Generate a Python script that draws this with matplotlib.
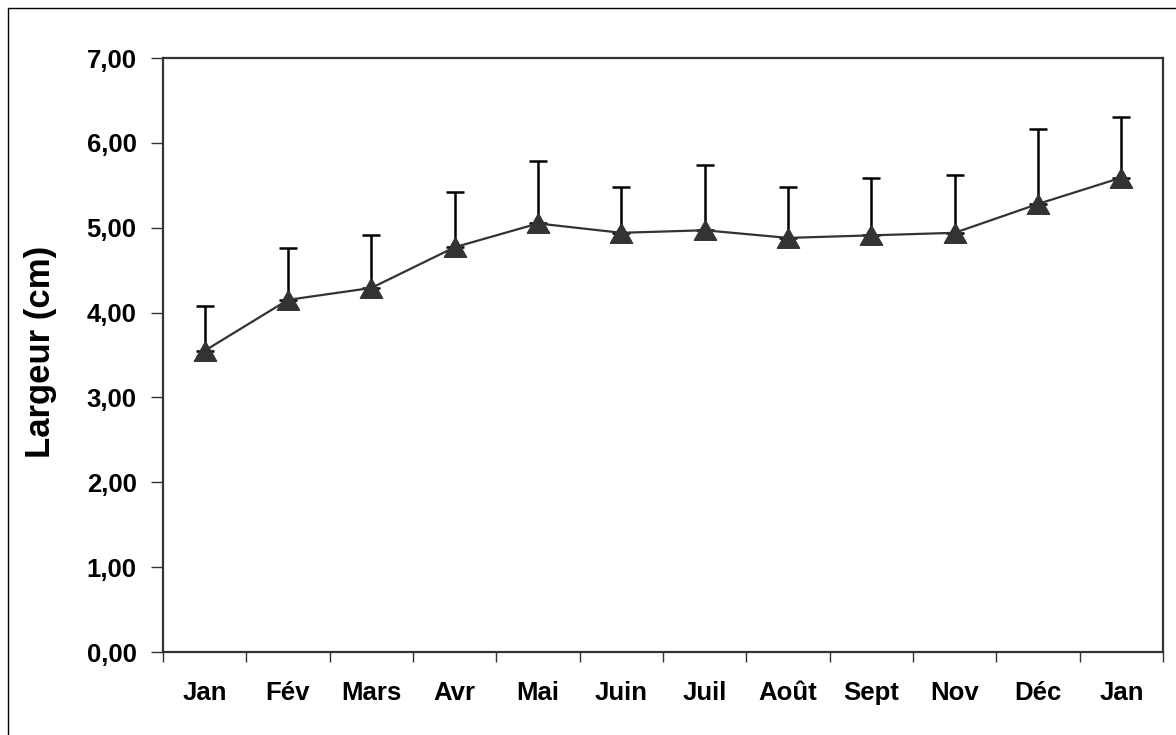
import numpy as np
import matplotlib.pyplot as plt
from matplotlib.lines import Line2D
from matplotlib.ticker import FixedLocator, FuncFormatter

plt.rcParams['font.family'] = ['Liberation Sans', 'DejaVu Sans']
plt.rcParams['font.weight'] = 'bold'

mois = ['Jan', 'Fév', 'Mars', 'Avr', 'Mai', 'Juin', 'Juil', 'Août', 'Sept', 'Nov', 'Déc', 'Jan']
largeur = [3.55, 4.15, 4.29, 4.77, 5.05, 4.94, 4.97, 4.88, 4.91, 4.94, 5.28, 5.59]
ecart_type = [0.53, 0.61, 0.62, 0.65, 0.74, 0.54, 0.77, 0.60, 0.68, 0.68, 0.88, 0.72]

x = np.arange(len(mois))
fig = plt.figure(figsize=(11.76, 7.35), dpi=100)
ax = fig.add_axes([163 / 1176, 1 - 652 / 735, 1000 / 1176, 594 / 735])

# barres d'erreur vers le haut seulement
ax.errorbar(x, largeur, yerr=[np.zeros(len(x)), ecart_type], fmt='none',
            ecolor='black', elinewidth=1.8, capsize=6.8, capthick=1.8, zorder=2)

tri = [(0, 0.88), (-1, -0.88), (1, -0.88), (0, 0.88)]
ax.plot(x, largeur, color='#333333', lw=1.6, marker=tri, markersize=16,
        markerfacecolor='#333333', markeredgecolor='#333333', zorder=3)

ax.set_xlim(-0.5, len(mois) - 0.5)
ax.set_ylim(0, 7)
ax.set_yticks(np.arange(0, 8, 1))
ax.yaxis.set_major_formatter(FuncFormatter(lambda v, p: f'{v:.2f}'.replace('.', ',')))

# graduations entre les mois, étiquettes au centre
ax.xaxis.set_major_locator(FixedLocator(np.arange(-0.5, len(mois), 1)))
ax.xaxis.set_major_formatter(FuncFormatter(lambda v, p: ''))
ax.xaxis.set_minor_locator(FixedLocator(x))
ax.set_xticklabels(mois, minor=True)
ax.tick_params(axis='x', which='minor', length=0, pad=21, labelsize=18.5)
ax.tick_params(axis='x', which='major', length=7, width=1, color='#333333')
ax.tick_params(axis='y', length=9, width=1, color='#333333', pad=10, labelsize=18.5)

for s in ax.spines.values():
    s.set_color('#333333')
    s.set_linewidth(1.6)

ax.set_ylabel('Largeur (cm)', fontsize=25, fontweight='bold')
ax.yaxis.set_label_coords(-0.106, 0.505)

# cadre autour du graphique
fig.add_artist(Line2D([8 / 1176, 8 / 1176, 1], [0, 1 - 8 / 735, 1 - 8 / 735],
                      transform=fig.transFigure, color='black', lw=1))

fig.savefig('out.png', dpi=100)
